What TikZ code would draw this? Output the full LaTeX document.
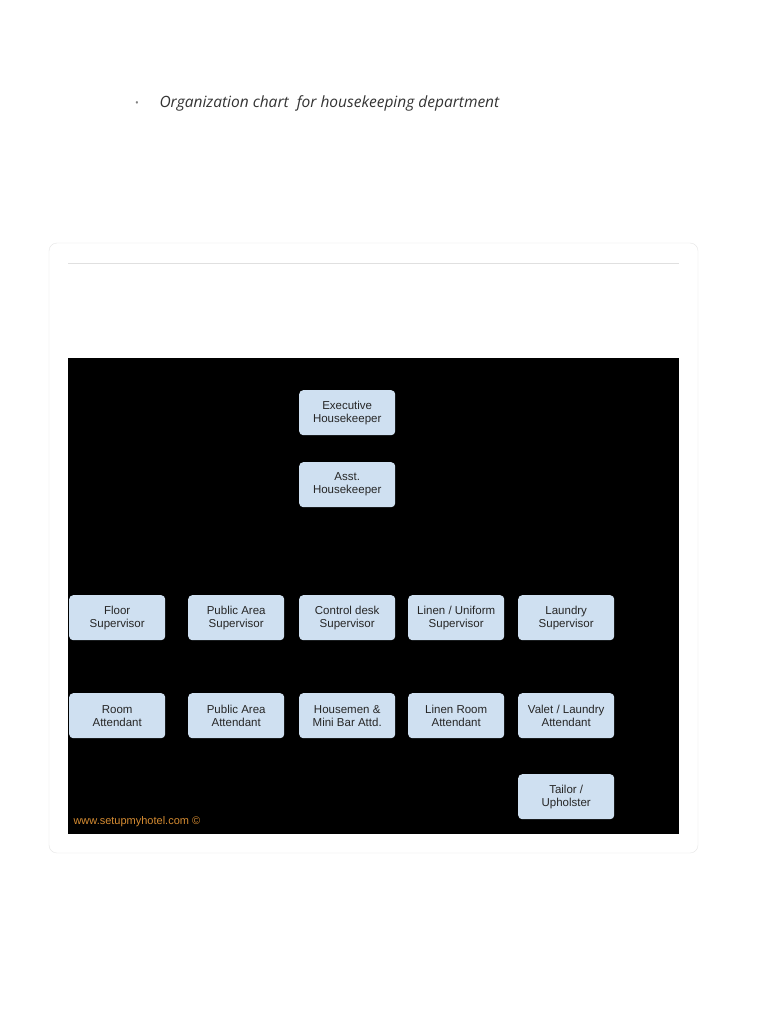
\documentclass[tikz,border=0pt]{standalone}
\usepackage{fontspec}
\setmainfont{Liberation Sans}
\newfontfamily\titlefont{Open Sans}
\begin{document}
\begin{tikzpicture}[x=1pt,y=-1pt,
  role/.style={draw=none,fill=blue!8!cyan!5!gray!20,fill={rgb,255:red,207;green,224;blue,241},rounded corners=4pt,minimum width=96pt,minimum height=45pt,align=center,font=\fontsize{11.5}{13}\selectfont,inner sep=1pt,anchor=north west,text=black!85}]
\useasboundingbox (0,0) rectangle (768,1024);
\fill[white] (0,0) rectangle (768,1024);
\node[font=\titlefont\fontsize{10}{12}\selectfont,text=gray] (bul) at (137,104) {•};
\node[font=\titlefont\itshape\fontsize{15.5}{18}\selectfont,text=black!80,anchor=west] (title) at (156,103) {Organization chart\ \ for housekeeping department};
\draw[black!10,rounded corners=8pt] (49,243) rectangle (698,853);
\draw[black!12] (68,263) -- (679,263);
\fill[black] (68,358) rectangle (679,834);
\node[role] (exec) at (299,390) {Executive\\Housekeeper};
\node[role] (asst) at (299,462) {Asst.\\Housekeeper};
\node[role] (fs) at (69,595) {Floor\\Supervisor};
\node[role] (pas) at (188,595) {Public Area\\Supervisor};
\node[role] (cds) at (299,595) {Control desk\\Supervisor};
\node[role] (lus) at (408,595) {Linen / Uniform\\Supervisor};
\node[role] (ls) at (518,595) {Laundry\\Supervisor};
\node[role] (ra) at (69,693) {Room\\Attendant};
\node[role] (paa) at (188,693) {Public Area\\Attendant};
\node[role] (hm) at (299,693) {Housemen \&\\Mini Bar Attd.};
\node[role] (lra) at (408,693) {Linen Room\\Attendant};
\node[role] (vla) at (518,693) {Valet / Laundry\\Attendant};
\node[role] (tu) at (518,774) {Tailor /\\Upholster};
\node[anchor=west,text={rgb,255:red,214;green,140;blue,50},font=\fontsize{11}{13}\selectfont] (wm) at (70,822) {www.setupmyhotel.com ©};
\end{tikzpicture}
\end{document}
